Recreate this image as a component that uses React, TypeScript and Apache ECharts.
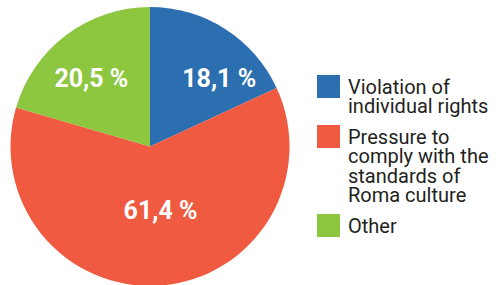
import React, { useEffect, useRef } from "react";
import * as echarts from "echarts";

const categories = [
  "Violation of\nindividual rights",
  "Pressure to\ncomply with the\nstandards of\nRoma culture",
  "Other",
];
const values = [18.1, 61.4, 20.5];
const colors = ["#2b6fb1", "#f05a40", "#8dc63f"];
// label nudges relative to the default "inside" position
const labelOffsets = [
  [30, -7],
  [5, -9],
  [-15, -10],
];

export default function App() {
  const ref = useRef<HTMLDivElement>(null);
  useEffect(() => {
    if (!ref.current) return;
    const chart = echarts.init(ref.current, null, { renderer: "svg" });

    const font = "Roboto, 'Noto Sans', sans-serif";
    const lineH = 19.5;
    const gap = 11;
    const sq = 23;
    const legendX = 317;
    let top = 75;
    const legendEls: any[] = [];
    categories.forEach((name, i) => {
      const lines = name.split("\n").length;
      legendEls.push({
        type: "rect",
        shape: { x: legendX, y: top, width: sq, height: sq },
        style: { fill: colors[i] },
      });
      legendEls.push({
        type: "text",
        x: legendX + 31,
        y: top + sq / 2 - lineH / 2,
        style: {
          text: name,
          font: `20px ${font}`,
          lineHeight: lineH,
          fill: "#231f20",
          verticalAlign: "top",
          align: "left",
        },
      });
      top += lines * lineH + gap;
    });

    chart.setOption({
      animation: false,
      graphic: legendEls,
      series: [
        {
          type: "pie",
          center: [150, 146.5],
          radius: 139.5,
          startAngle: 90,
          clockwise: true,
          data: categories.map((n, i) => ({
            name: n,
            value: values[i],
            itemStyle: { color: colors[i] },
          })),
          itemStyle: { borderWidth: 0 },
          label: {
            show: true,
            position: "inside",
            formatter: (p: any) => `${p.value.toFixed(1).replace(".", ",")} %`,
            color: "#ffffff",
            fontFamily: font,
            fontWeight: "bold",
            fontSize: 25,
          },
          labelLayout: (p: any) => ({
            dx: labelOffsets[p.dataIndex][0],
            dy: labelOffsets[p.dataIndex][1],
          }),
          labelLine: { show: false },
          emphasis: { disabled: true },
        },
      ],
    });
    return () => chart.dispose();
  }, []);
  return (
    <div
      ref={ref}
      style={{ position: "fixed", left: 0, top: 0, width: 500, height: 285, background: "#fff" }}
    />
  );
}
